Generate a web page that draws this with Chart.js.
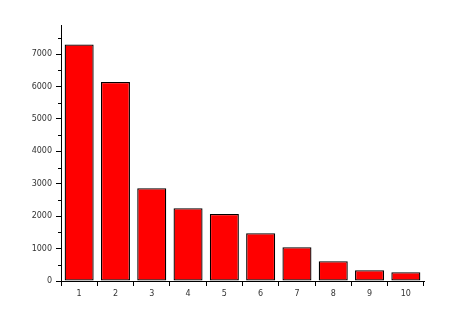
<!DOCTYPE html>
<html><head><meta charset="utf-8">
<script src="https://cdn.jsdelivr.net/npm/chart.js@4/dist/chart.umd.min.js"></script>
<style>html,body{margin:0;padding:0;background:#fff}#wrap{width:452px;height:331px}</style>
</head><body><div id="wrap"><canvas id="c" width="452" height="331"></canvas></div>
<script>
const categories = ["1","2","3","4","5","6","7","8","9","10"];
const values = [7300, 6140, 2860, 2245, 2070, 1475, 1040, 610, 330, 270];
const yMax = 7900;
const yMajorTicks = [0, 1000, 2000, 3000, 4000, 5000, 6000, 7000];
const yMinorTicks = [500, 1500, 2500, 3500, 4500, 5500, 6500, 7500];

const minorTicks = {
  id: 'minorTicks',
  afterDraw(chart) {
    const y = chart.scales.y, ctx = chart.ctx, left = chart.chartArea.left;
    ctx.save();
    ctx.strokeStyle = '#000'; ctx.lineWidth = 1;
    for (const v of yMinorTicks) {
      const p = Math.round(y.getPixelForValue(v)) + 0.5;
      ctx.beginPath(); ctx.moveTo(left - 3, p); ctx.lineTo(left, p); ctx.stroke();
    }
    ctx.restore();
  }
};

new Chart(document.getElementById('c'), {
  type: 'bar',
  data: { labels: categories, datasets: [{ data: values, backgroundColor: '#ff0000', borderColor: '#000', borderWidth: 1.3, borderSkipped: false, barPercentage: 0.8, categoryPercentage: 1.0 }] },
  options: {
    responsive: false, animation: false, devicePixelRatio: 1,
    layout: { padding: { top: 25, right: 28, left: 0, bottom: 0 } },
    plugins: { legend: { display: false }, tooltip: { enabled: false } },
    scales: {
      x: {
        grid: { display: true, offset: true, drawOnChartArea: false, drawTicks: true, tickLength: 5, color: '#000' },
        border: { display: true, color: '#000', width: 1 },
        ticks: { color: '#333', font: { family: 'DejaVu Sans', size: 8 }, padding: 3, maxRotation: 0 },
        afterFit(s) { s.height = 50; }
      },
      y: {
        min: 0, max: yMax,
        grid: { display: true, drawOnChartArea: false, drawTicks: true, tickLength: 5, color: '#000' },
        border: { display: true, color: '#000', width: 1 },
        ticks: { autoSkip: false, color: '#333', font: { family: 'DejaVu Sans', size: 8 }, padding: 4, callback: v => String(v) },
        afterBuildTicks(s) { s.ticks = yMajorTicks.map(v => ({ value: v })); },
        afterFit(s) { s.width = 61; }
      }
    }
  },
  plugins: [minorTicks]
});
</script></body></html>
